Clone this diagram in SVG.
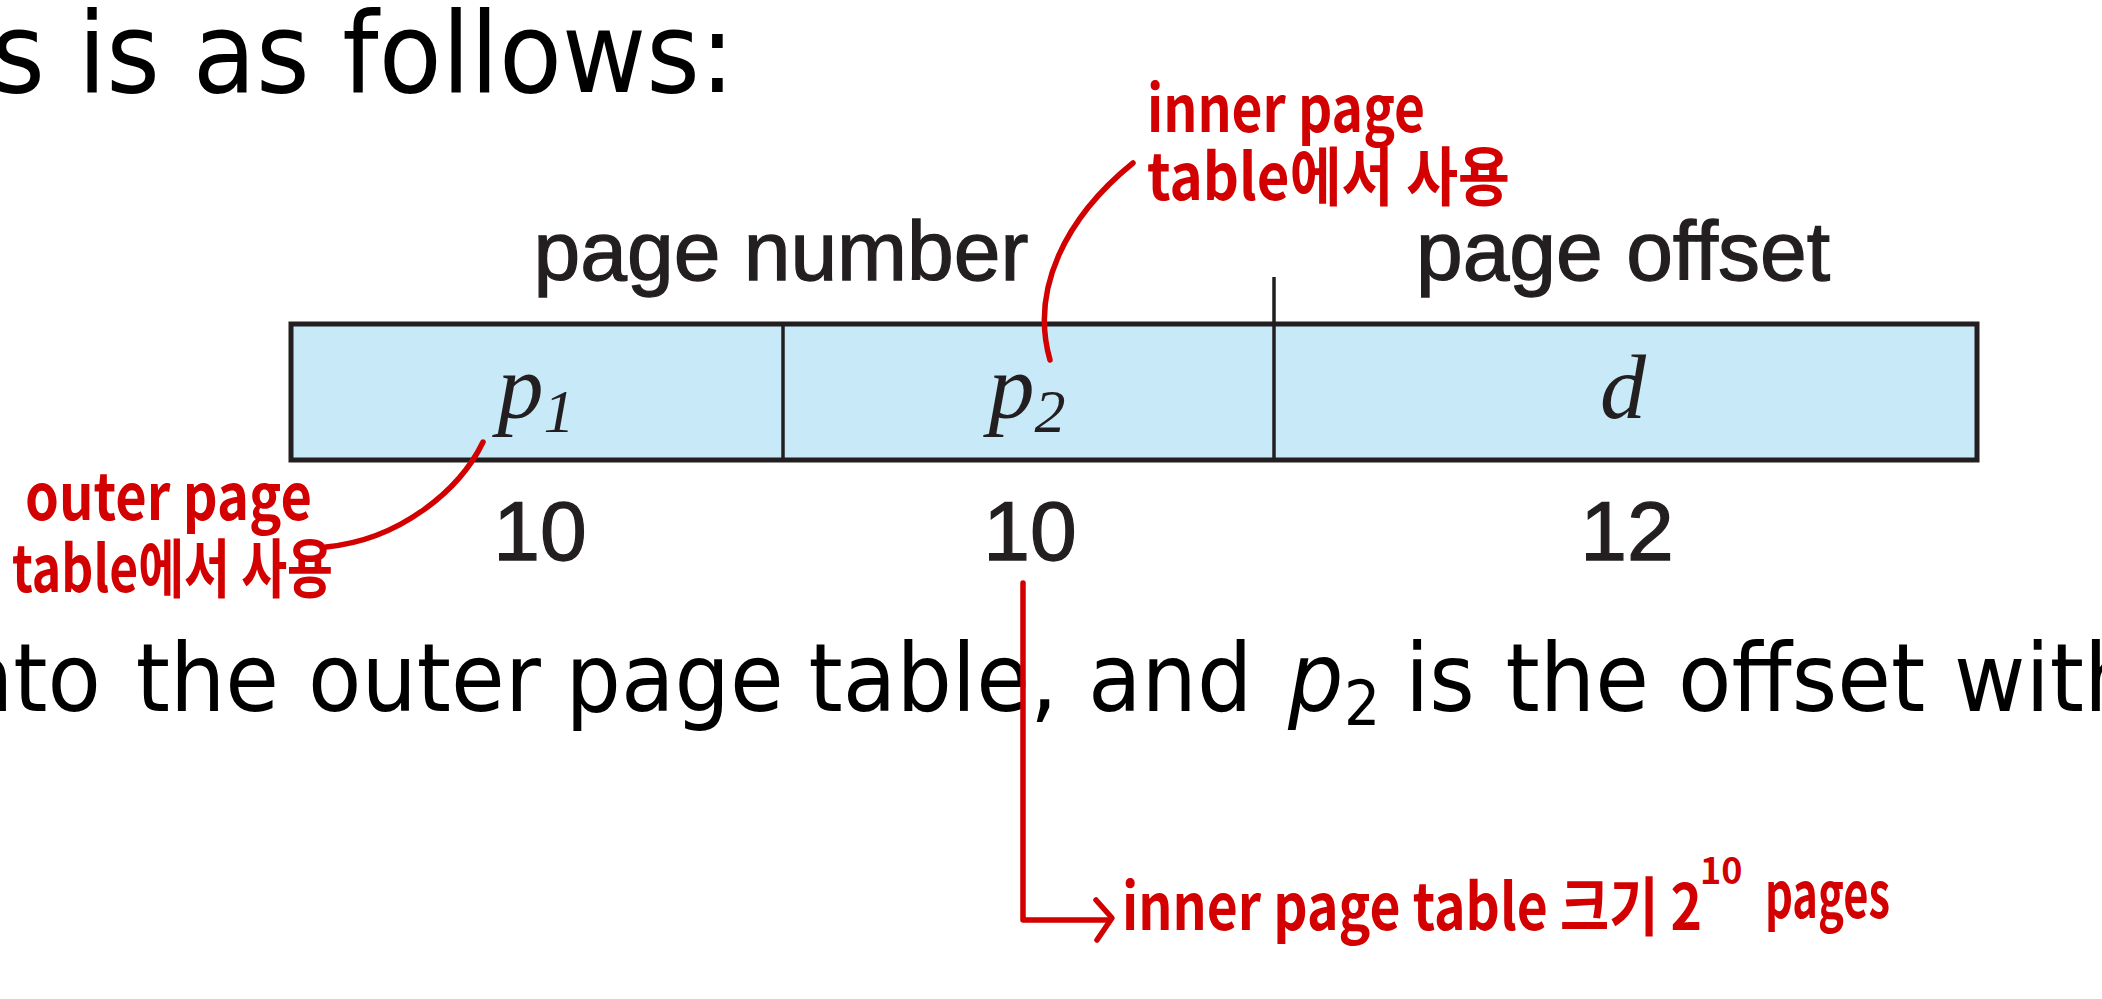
<svg xmlns="http://www.w3.org/2000/svg" width="2102" height="999" viewBox="0 0 2102 999">
  <defs>
    <style>
      .slide { font-family: "DejaVu Sans", "Liberation Sans", sans-serif; fill: #000; }
      .slideit { font-family: "DejaVu Sans", "Liberation Sans", sans-serif; font-style: italic; fill: #000; }
      .lbl { font-family: "Liberation Sans", Arial, sans-serif; font-size: 84px; fill: #231f20; stroke: #231f20; stroke-width: 1.3; }
      .var { font-family: "Liberation Serif", "Times New Roman", serif; font-style: italic; font-size: 92px; fill: #231f20; }
      .hand { font-family: "Noto Sans CJK KR", "Noto Sans", sans-serif; font-weight: 700; fill: #d20000; font-size: 64px; }
      .cell { fill: #c8e9f8; stroke: #231f20; stroke-width: 5; }
      .div { stroke: #231f20; stroke-width: 3.5; fill: none; }
      .red { stroke: #d20000; stroke-width: 5.5; fill: none; stroke-linecap: round; stroke-linejoin: round; }
    </style>
    <marker id="chev" markerUnits="userSpaceOnUse" markerWidth="40" markerHeight="60" viewBox="-20 -30 40 60" refX="0" refY="0" orient="auto">
      <path d="M-12,-20 L4,-2 L-11,20" fill="none" stroke="#d20000" stroke-width="5.5" stroke-linecap="round" stroke-linejoin="round"/>
    </marker>
  </defs>
  <rect width="2102" height="999" fill="#ffffff"/>

  <g id="slide-text-top">
    <text class="slide" font-size="112" transform="translate(-8.7,92) scale(0.92,1)" x="0" y="0">s is as follows:</text>
  </g>

  <g id="slide-text-bottom">
    <text class="slide" font-size="95" transform="translate(0,711) scale(0.92,1)"><tspan x="-45.7" y="0">nto</tspan><tspan x="147.5" y="0">the</tspan><tspan x="334.8" y="0">outer</tspan><tspan x="614.7" y="0">page</tspan><tspan x="878.9" y="0">table,</tspan><tspan x="1182.6" y="0">and</tspan><tspan class="slideit" x="1400" y="0">p</tspan><tspan font-size="62" x="1461" y="14">2</tspan><tspan x="1527.2" y="0">is</tspan><tspan x="1636.5" y="0">the</tspan><tspan x="1823.9" y="0">offset</tspan><tspan x="2124" y="0">with</tspan></text>
  </g>

  <g id="node-address">
    <rect class="cell" x="291" y="324" width="1686" height="136"/>
    <line class="div" x1="783" y1="324" x2="783" y2="460"/>
    <line class="div" x1="1274" y1="277" x2="1274" y2="460"/>
  </g>

  <g id="node-labels">
    <text class="lbl" x="781" y="280" text-anchor="middle">page number</text>
    <text class="lbl" x="1623" y="280" text-anchor="middle">page offset</text>
    <text class="var" x="536" y="418" text-anchor="middle">p<tspan font-size="62" dy="14">1</tspan></text>
    <text class="var" x="1027" y="418" text-anchor="middle">p<tspan font-size="62" dy="14">2</tspan></text>
    <text class="var" x="1623" y="418" text-anchor="middle">d</text>
    <text class="lbl" x="540" y="560" text-anchor="middle">10</text>
    <text class="lbl" x="1030" y="560" text-anchor="middle">10</text>
    <text class="lbl" x="1627" y="560" text-anchor="middle">12</text>
  </g>

  <g id="annotation-inner">
    <text class="hand" x="1147" y="132" textLength="278" lengthAdjust="spacingAndGlyphs">inner page</text>
    <text class="hand" x="1147" y="200" textLength="363" lengthAdjust="spacingAndGlyphs">table에서 사용</text>
  </g>

  <g id="annotation-outer">
    <text class="hand" x="25" y="520" textLength="287" lengthAdjust="spacingAndGlyphs">outer page</text>
    <text class="hand" x="12" y="592" textLength="321" lengthAdjust="spacingAndGlyphs">table에서 사용</text>
  </g>

  <g id="annotation-size">
    <text class="hand"><tspan x="1122" y="930" textLength="580" lengthAdjust="spacingAndGlyphs">inner page table 크기 2</tspan><tspan x="1700" y="884" font-size="36">10</tspan><tspan x="1755" y="918" textLength="135" lengthAdjust="spacingAndGlyphs"> pages</tspan></text>
  </g>

  <g id="connectors">
    <path class="red" d="M1133,163 C1065,218 1030,290 1050,360"/>
    <path class="red" d="M483,442 C460,490 400,540 326,547"/>
    <path class="red" d="M1023,583 L1023,920 L1108,920" marker-end="url(#chev)"/>
  </g>
</svg>
